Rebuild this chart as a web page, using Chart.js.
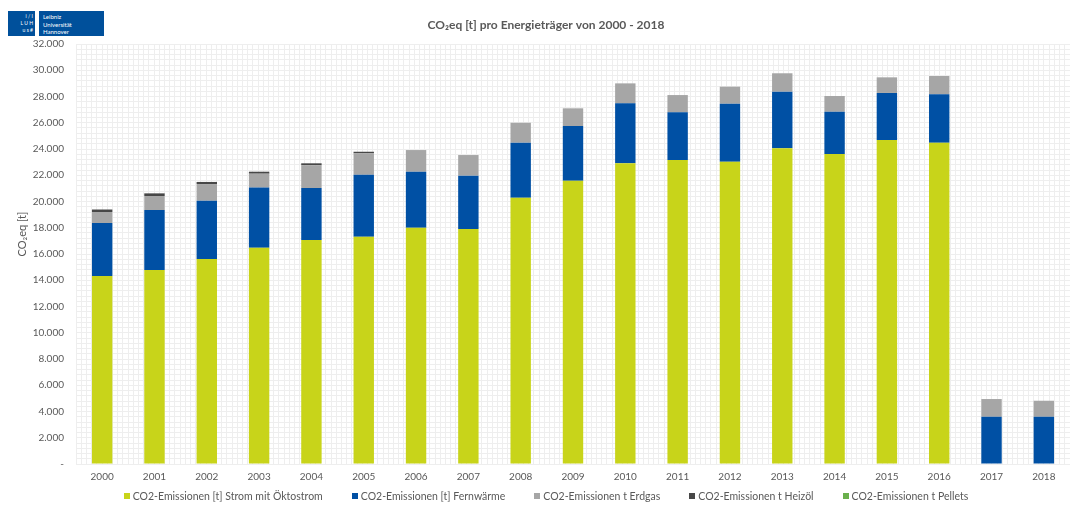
<!DOCTYPE html>
<html>
<head>
<meta charset="utf-8">
<script src="https://cdn.jsdelivr.net/npm/chart.js@4.4.1/dist/chart.umd.min.js"></script>
<style>
  html, body { margin: 0; padding: 0; background: #fff; }
  #wrap { position: relative; width: 1070px; height: 506px; overflow: hidden; font-family: Lato, "Noto Sans", sans-serif; }
  canvas { position: absolute; left: 0; top: 0; }
  .logo { position: absolute; background: #00509b; color: #fff; }
  #logo1 { left: 8px; top: 11px; width: 27px; height: 25px; font-size: 5px; line-height: 7px; text-align: right; padding-right: 2px; box-sizing: border-box; padding-top: 2px; }
  #logo2 { left: 39px; top: 11px; width: 65px; height: 25px; font-size: 6px; line-height: 7.5px; padding-left: 4px; padding-top: 2px; box-sizing: border-box; }
  #legend { position: absolute; left: 0; width: 1092px; top: 490px; display: flex; justify-content: center; gap: 29px; font-size: 10.5px; color: #595959; white-space: nowrap; }
  .li { display: flex; align-items: center; }
  .lb { width: 6px; height: 6px; margin-right: 3px; }
</style>
</head>
<body>
<div id="wrap">
  <canvas id="c" width="1070" height="506"></canvas>
  <div class="logo" id="logo1">i&nbsp;/&nbsp;I<br>L&nbsp;U&nbsp;H<br>u&nbsp;s&nbsp;#</div>
  <div class="logo" id="logo2">Leibniz<br>Universität<br>Hannover</div>
  <div id="legend"></div>
</div>
<script>
const years = ['2000','2001','2002','2003','2004','2005','2006','2007','2008','2009','2010','2011','2012','2013','2014','2015','2016','2017','2018'];
const strom   = [14320,14780,15620,16480,17070,17320,18000,17900,20290,21580,22910,23160,23030,24050,23620,24690,24480,0,0];
const fernw   = [4040,4570,4440,4590,3950,4720,4270,4070,4190,4170,4570,3640,4420,4320,3220,3580,3690,3600,3600];
const erdgas  = [840,1070,1270,1050,1740,1630,1650,1570,1520,1350,1520,1310,1300,1400,1200,1190,1390,1350,1220];
const heizoel = [190,200,160,150,150,120,0,0,0,0,0,0,0,0,0,0,0,0,0];
const pellets = [0,0,0,0,0,0,0,0,0,0,0,0,0,0,0,0,0,0,0];
const seriesNames = ['CO2-Emissionen [t] Strom mit Öktostrom','CO2-Emissionen [t] Fernwärme','CO2-Emissionen t Erdgas','CO2-Emissionen t Heizöl','CO2-Emissionen t Pellets'];
const seriesColors = ['#c8d41a','#0050a4','#a6a6a6','#474747','#6ab04c'];
const yMax = 32000, yStep = 2000, yMinorStep = 400;
const titleText = 'CO₂eq [t] pro Energieträger von 2000 - 2018';
const yTitleText = 'CO₂eq [t]';

const FONT = 'Lato, "Noto Sans", sans-serif';
const TXT = '#595959';

const seriesData = [strom, fernw, erdgas, heizoel, pellets];
const datasets = seriesData.map((d, i) => ({
  label: seriesNames[i], data: d, backgroundColor: seriesColors[i],
  borderWidth: 0, categoryPercentage: 1, barPercentage: 0.39, xAxisID: 'x', yAxisID: 'y'
}));

const fmt = v => v === 0 ? '-' : String(v).replace(/\B(?=(\d{3})+(?!\d))/g, '.');

const yTitlePlugin = {
  id: 'yTitle',
  afterDraw(chart) {
    const ctx = chart.ctx;
    ctx.save();
    ctx.translate(22, 234);
    ctx.rotate(-Math.PI / 2);
    ctx.font = '11px ' + FONT;
    ctx.fillStyle = TXT;
    ctx.textAlign = 'center';
    ctx.textBaseline = 'middle';
    ctx.fillText(yTitleText, 0, 0);
    ctx.restore();
  }
};

new Chart(document.getElementById('c'), {
  type: 'bar',
  data: { labels: years, datasets },
  options: {
    responsive: false, animation: false, devicePixelRatio: 1,
    layout: { padding: { left: 20, right: -2, top: 0, bottom: 20 } },
    plugins: {
      legend: { display: false },
      tooltip: { enabled: false },
      title: { display: true, text: titleText, color: TXT, font: { family: FONT, size: 12, weight: 'bold' }, padding: { top: 18, bottom: 11.6 } }
    },
    scales: {
      x: {
        stacked: true, z: 0,
        grid: { display: false, drawTicks: false },
        border: { display: false },
        ticks: { color: TXT, font: { family: FONT, size: 10 }, padding: 7, maxRotation: 0, autoSkip: false },
        afterFit: s => { s.height = 22; }
      },
      xm: {
        type: 'linear', position: 'bottom', min: 0, max: years.length * 10, z: -2,
        grid: { color: '#eeeeee', lineWidth: 1, drawTicks: false },
        border: { display: false },
        ticks: { display: false, stepSize: 1, maxTicksLimit: 1000 },
        afterFit: s => { s.height = 0; }
      },
      y: {
        stacked: true, min: 0, max: yMax, z: 0,
        grid: { color: '#d9d9d9', lineWidth: 1, drawTicks: false },
        border: { display: false },
        ticks: { stepSize: yStep, color: TXT, font: { family: FONT, size: 10 }, padding: 12, callback: v => fmt(v) },
        afterFit: s => { s.width = 56; }
      },
      ym: {
        type: 'linear', position: 'left', min: 0, max: yMax, z: -1,
        grid: { color: '#eeeeee', lineWidth: 1, drawTicks: false },
        border: { display: false },
        ticks: { display: false, stepSize: yMinorStep, maxTicksLimit: 1000 },
        afterFit: s => { s.width = 0; }
      }
    }
  },
  plugins: [yTitlePlugin]
});

const lg = document.getElementById('legend');
seriesNames.forEach((n, i) => {
  const it = document.createElement('div'); it.className = 'li';
  const b = document.createElement('span'); b.className = 'lb'; b.style.background = seriesColors[i];
  const t = document.createElement('span'); t.textContent = n;
  it.appendChild(b); it.appendChild(t); lg.appendChild(it);
});
</script>
</body>
</html>
